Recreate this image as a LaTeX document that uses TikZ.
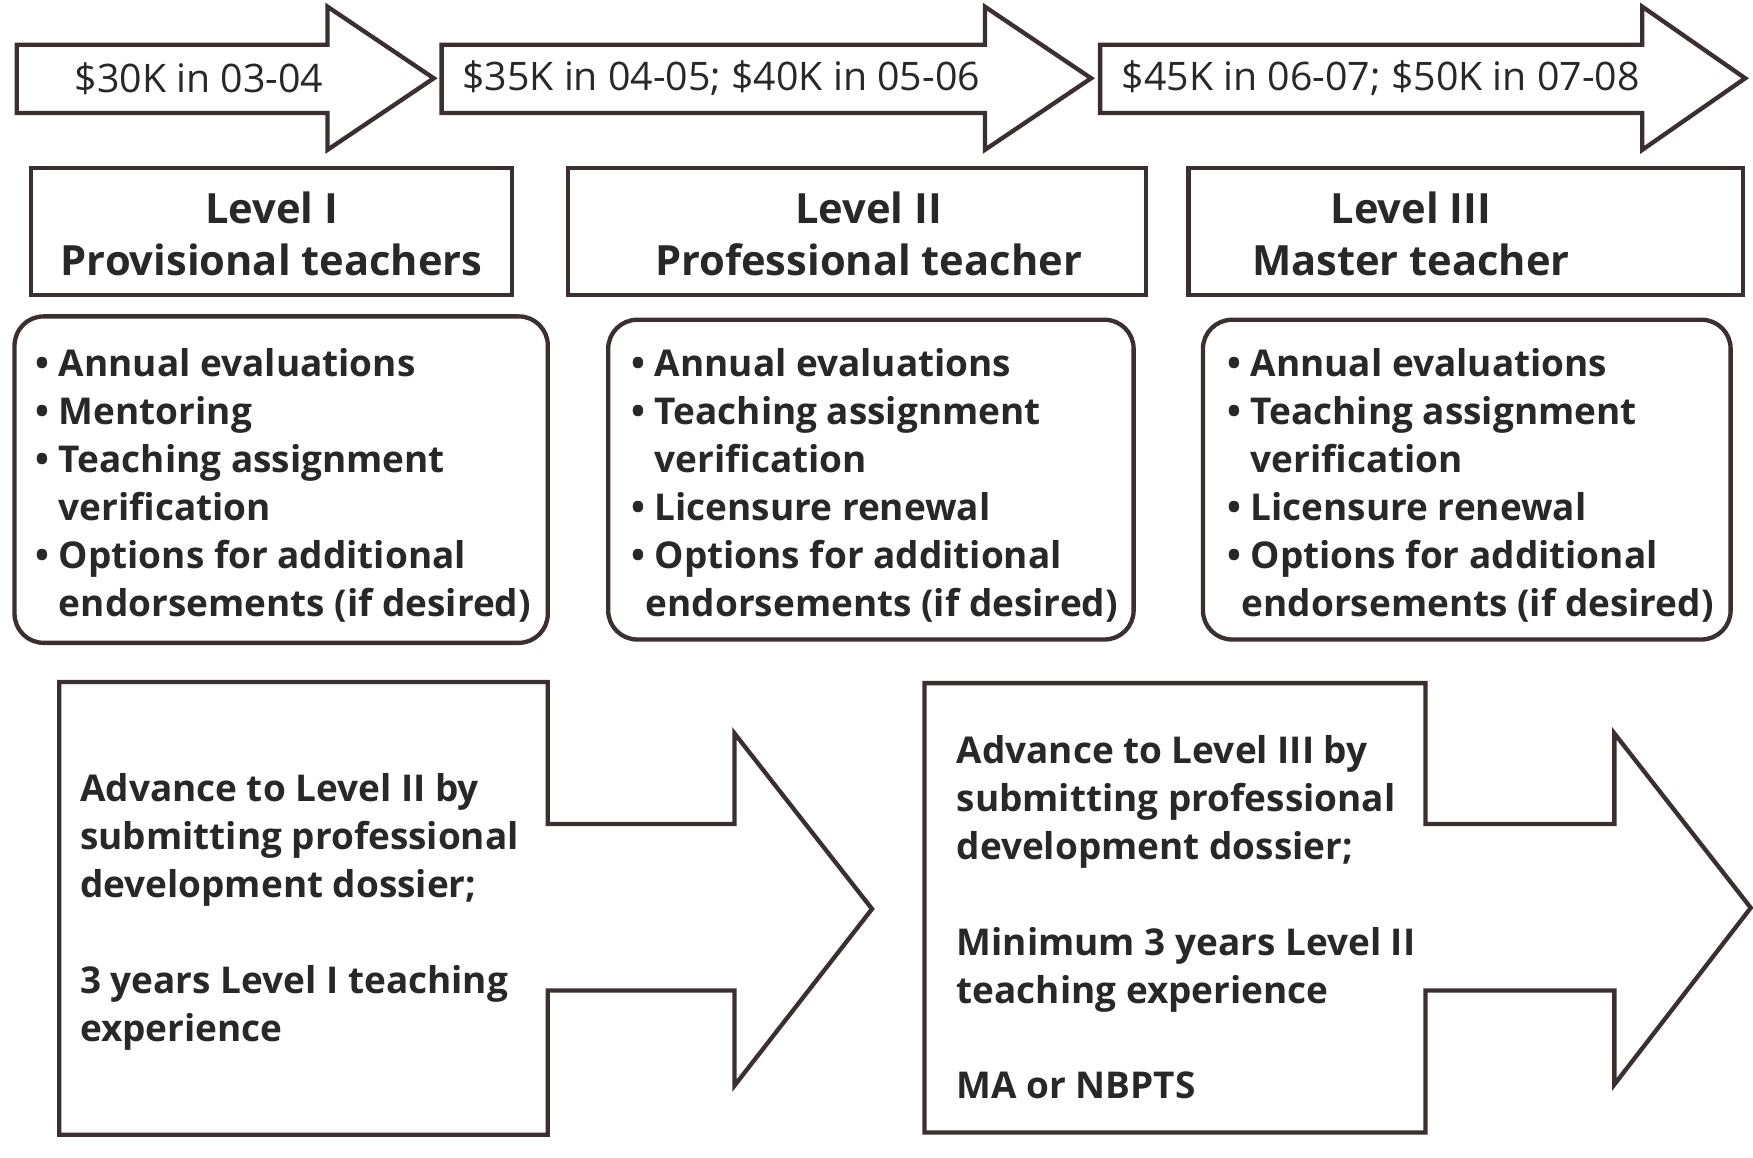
\documentclass[tikz,border=0pt]{standalone}
\usepackage{fontspec}
\setmainfont{Open Sans}
\definecolor{edgegray}{RGB}{58,48,48}
\definecolor{inkgray}{RGB}{40,40,40}
\tikzset{
  outline/.style={draw=edgegray, line width=1.1pt, fill=white, line join=miter},
  salary/.style={font=\fontsize{10}{11}\selectfont, text=inkgray, inner sep=0pt},
  leveltitle/.style={font=\bfseries\fontsize{10.6}{13.3}\selectfont, align=center, text=inkgray, inner sep=0pt},
  duties/.style={font=\bfseries\fontsize{9.4}{12.2}\selectfont, align=left, text=inkgray, inner sep=0pt, anchor=north west}
}
\newcommand{\itm}{\textbullet\ }
\newcommand{\cont}{\hphantom{\textbullet\ }}

\begin{document}
\begin{tikzpicture}[x=0.1mm, y=-0.1mm]
\useasboundingbox (0,0) rectangle (1568,1035);

\draw[outline] (15,40) -- (293,40) -- (293,6) -- (388,70) -- (293,134) -- (293,101) -- (15,101) -- cycle;
\draw[outline] (395,40) -- (881,40) -- (881,6) -- (976,70) -- (881,134) -- (881,101) -- (395,101) -- cycle;
\draw[outline] (984,40) -- (1469,40) -- (1469,6) -- (1561,70) -- (1469,134) -- (1469,101) -- (984,101) -- cycle;

\node[salary] (pay1) at (178,70) {\$30K in 03-04};
\node[salary] (pay2) at (645,70) {\$35K in 04-05; \$40K in 05-06};
\node[salary] (pay3) at (1235,70) {\$45K in 06-07; \$50K in 07-08};

\draw[outline] (28,150) rectangle (458,264);
\draw[outline] (508,150) rectangle (1025,264);
\draw[outline] (1063,150) rectangle (1559,264);

\node[leveltitle] (level1) at (243,209) {Level I\\Provisional teachers};
\node[leveltitle] (level2) at (777,209) {Level II\\Professional teacher};
\node[leveltitle] (level3) at (1262,209) {Level III\\Master teacher};

\draw[outline, rounded corners=2.6mm] (13,283) rectangle (490,575);
\draw[outline, rounded corners=2.6mm] (544,286) rectangle (1014,572);
\draw[outline, rounded corners=2.6mm] (1076,286) rectangle (1548,572);

\node[duties] (tasks1) at (31,311) {\itm Annual evaluations\\\itm Mentoring\\\itm Teaching assignment\\\cont verification\\\itm Options for additional\\\cont endorsements (if desired)};
\node[duties] (tasks2) at (564,311) {\itm Annual evaluations\\\itm Teaching assignment\\\cont verification\\\itm Licensure renewal\\\itm Options for additional\\\cont\hspace{-0.8mm}endorsements (if desired)};
\node[duties] (tasks3) at (1097,311) {\itm Annual evaluations\\\itm Teaching assignment\\\cont verification\\\itm Licensure renewal\\\itm Options for additional\\\cont\hspace{-0.8mm}endorsements (if desired)};

\draw[outline] (53,610) -- (490,610) -- (490,737) -- (657,737) -- (657,656) -- (780,813) -- (657,971) -- (657,886) -- (490,886) -- (490,1015) -- (53,1015) -- cycle;
\draw[outline] (827,611) -- (1275,611) -- (1275,737) -- (1444,737) -- (1444,656) -- (1566,812) -- (1444,970) -- (1444,886) -- (1275,886) -- (1275,1013) -- (827,1013) -- cycle;

\node[duties] (advance2) at (71,691) {Advance to Level II by\\submitting professional\\development dossier;\\[12.2pt]3 years Level I teaching\\experience};
\node[duties] (advance3) at (855,657) {Advance to Level III by\\submitting professional\\development dossier;\\[12.2pt]Minimum 3 years Level II\\teaching experience\\[12.2pt]MA or NBPTS};
\end{tikzpicture}
\end{document}
